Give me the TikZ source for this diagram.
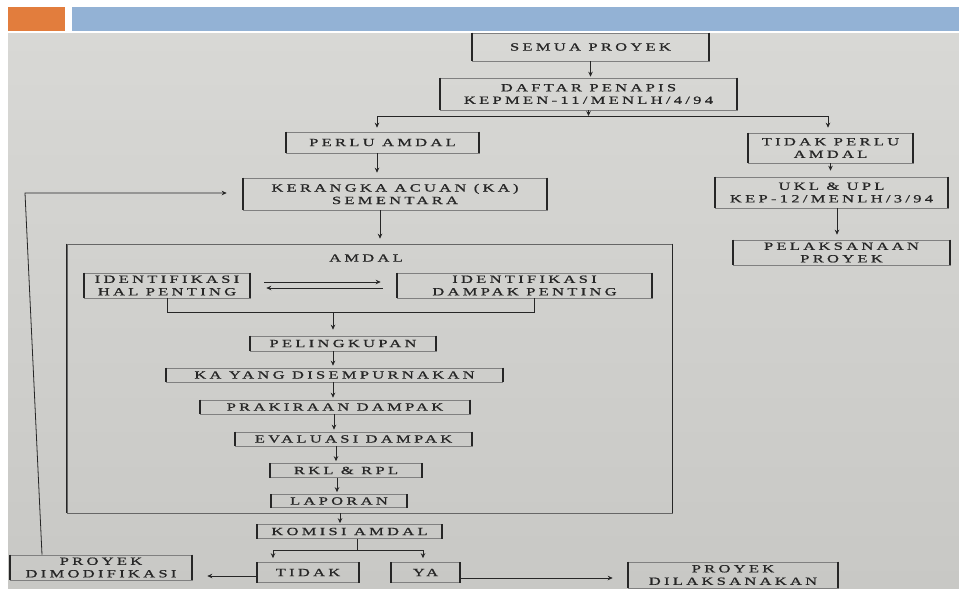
\documentclass[tikz,border=0pt]{standalone}
\usepackage{fontspec}
\newfontfamily\boxfont[FakeStretch=1.5,LetterSpace=30,FakeBold=0.9]{Liberation Serif}
\usetikzlibrary{arrows.meta,calc}
\definecolor{slideorange}{HTML}{E27D3D}
\definecolor{slideblue}{HTML}{93B2D5}
\definecolor{papertop}{HTML}{D8D8D5}
\definecolor{paperbot}{HTML}{C8C8C5}
\definecolor{ink}{HTML}{262626}
\tikzset{
  box/.style={draw=black!50, line width=0.6pt, inner sep=0pt, align=center,
    font=\boxfont\fontsize{11}{12.5}\selectfont, text=ink},
  lbl/.style={inner sep=0pt, font=\boxfont\fontsize{11}{12.5}\selectfont, text=ink},
  conn/.style={draw=ink, line width=0.8pt},
  arr/.style={conn, -{Stealth[length=5pt,width=4.5pt]}},
  side/.style={draw=black!85, line width=1.7pt}
}
\begin{document}
\begin{tikzpicture}[x=1pt,y=-1pt]
\useasboundingbox (0,0) rectangle (959,589);
\fill[white] (0,0) rectangle (959,589);
\fill[slideorange] (8,7) rectangle (65,31);
\fill[slideblue] (72,7) rectangle (959,31);
\shade[top color=papertop, bottom color=paperbot] (8,33) rectangle (959,588);

% top part
\node[box, minimum width=237pt, minimum height=28pt] (semua) at (590.5,47) {SEMUA PROYEK};
\node[box, minimum width=297pt, minimum height=32pt] (daftar) at (588.5,94) {DAFTAR PENAPIS\\KEPMEN-11/MENLH/4/94};
\node[box, minimum width=193pt, minimum height=21pt] (perlu) at (382.5,142.5) {PERLU AMDAL};
\node[box, minimum width=165pt, minimum height=30pt] (tidakperlu) at (830.5,148) {TIDAK PERLU\\AMDAL};
\node[box, minimum width=304pt, minimum height=32pt] (ker) at (395,194) {KERANGKA ACUAN (KA)\\SEMENTARA};
\node[box, minimum width=233pt, minimum height=31pt] (ukl) at (831.5,192.5) {UKL \& UPL\\KEP-12/MENLH/3/94};
\node[box, minimum width=217pt, minimum height=25pt] (pelak) at (841.5,252.5) {PELAKSANAAN\\PROYEK};

% AMDAL frame
\node[draw=black!60, line width=0.6pt, minimum width=605pt, minimum height=269pt, inner sep=0pt] (amdalbox) at (369.5,378.5) {};
\node[lbl] (amdallbl) at (366,258) {AMDAL};
\node[box, minimum width=166pt, minimum height=25pt] (ihp) at (167,285.5) {IDENTIFIKASI\\HAL PENTING};
\node[box, minimum width=255pt, minimum height=25pt] (idp) at (524.5,285.5) {IDENTIFIKASI\\DAMPAK PENTING};
\node[box, minimum width=186pt, minimum height=15pt] (peling) at (343,343.5) {PELINGKUPAN};
\node[box, minimum width=336pt, minimum height=14pt] (kayang) at (334.5,375) {KA YANG DISEMPURNAKAN};
\node[box, minimum width=270pt, minimum height=14pt] (prak) at (335,407) {PRAKIRAAN DAMPAK};
\node[box, minimum width=237pt, minimum height=14pt] (eval) at (353.5,439) {EVALUASI DAMPAK};
\node[box, minimum width=152pt, minimum height=14pt] (rkl) at (346,470.5) {RKL \& RPL};
\node[box, minimum width=136pt, minimum height=13pt] (lap) at (339,501) {LAPORAN};

% bottom part
\node[box, minimum width=185pt, minimum height=14pt] (komisi) at (349.5,531.5) {KOMISI AMDAL};
\node[box, minimum width=102pt, minimum height=20pt] (tidak) at (308,572.5) {TIDAK};
\node[box, minimum width=69pt, minimum height=20pt] (ya) at (425.5,572.5) {YA};
\node[box, minimum width=182pt, minimum height=25pt] (dimod) at (101,567.5) {PROYEK\\DIMODIFIKASI};
\node[box, minimum width=210pt, minimum height=26pt] (dilak) at (733,575) {PROYEK\\DILAKSANAKAN};

% thick vertical sides of the boxes
\foreach \n in {semua,daftar,perlu,tidakperlu,ker,ukl,pelak,ihp,idp,peling,kayang,prak,eval,rkl,lap,komisi,tidak,ya,dimod,dilak}{
  \draw[side] (\n.north west) -- (\n.south west) (\n.north east) -- (\n.south east);
}
\draw[side, line width=1.4pt] (amdalbox.north west) -- (amdalbox.south west) (amdalbox.north east) -- (amdalbox.south east);

% coordinates
\coordinate (sL) at (377,116);
\coordinate (sR) at (828,116);
\coordinate (bL) at (167,312);
\coordinate (bR) at (534,312);
\coordinate (bM) at (333,312);
\coordinate (kx) at (340,520);
\coordinate (t2) at (357,550);
\coordinate (t2L) at (273,550);
\coordinate (t2R) at (423,550);
\coordinate (fbx) at (42,555);
\coordinate (fb2) at (25,193);

% connectors top
\draw[arr, shorten >=1pt] (semua.south) -- (semua.south |- daftar.north);
\draw[conn] (sL) -- (sR);
\draw[arr] (daftar.south) -- (daftar.south |- sL);
\draw[arr, shorten >=4pt] (sL) -- (sL |- perlu.north);
\draw[arr, shorten >=5pt] (sR) -- (sR |- tidakperlu.north);
\draw[arr, shorten >=5pt] (perlu.south -| sL) -- (ker.north -| sL);
\draw[arr, shorten >=5pt] ([xshift=-15pt]ker.south) -- ([xshift=-15pt]ker.south |- amdalbox.north);
\draw[arr, shorten >=6pt] (tidakperlu.south) -- (tidakperlu.south |- ukl.north);
\draw[arr, shorten >=5pt] (ukl.south -| 837,0) -- (pelak.north -| 837,0);

% inside AMDAL
\draw[arr, shorten <=14pt, shorten >=16pt] ([yshift=3.5pt]ihp.east) -- ([yshift=3.5pt]ihp.east -| idp.west);
\draw[arr, shorten <=14pt, shorten >=16pt] ([yshift=-2.5pt]idp.west) -- ([yshift=-2.5pt]idp.west -| ihp.east);
\draw[conn] (ihp.south) -- (bL) -- (bR) -- (bR |- idp.south);
\draw[arr, shorten >=6pt] (bM) -- (bM |- peling.north);
\draw[arr, shorten >=2pt] (peling.south -| bM) -- (kayang.north -| bM);
\draw[arr, shorten >=2pt] (kayang.south -| bM) -- (prak.north -| bM);
\draw[arr, shorten >=2pt] ([xshift=1pt]prak.south -| bM) -- ([xshift=1pt]eval.north -| bM);
\draw[arr, shorten >=2pt] ([xshift=3pt]eval.south -| bM) -- ([xshift=3pt]rkl.north -| bM);
\draw[arr, shorten >=2pt] ([xshift=4pt]rkl.south -| bM) -- ([xshift=4pt]lap.north -| bM);

% bottom connectors
\draw[arr, shorten >=1pt] (amdalbox.south -| kx) -- (komisi.north -| kx);
\draw[conn] (komisi.south -| t2) -- (t2);
\draw[conn] (t2L) -- (t2R);
\draw[arr, shorten >=4pt] (t2L) -- (t2L |- tidak.north);
\draw[arr, shorten >=4pt] (t2R) -- (t2R |- ya.north);
\draw[arr, shorten >=15pt] ([yshift=-3.5pt]tidak.west) -- ([yshift=-3.5pt]tidak.west -| dimod.east);
\draw[arr, shorten >=15pt] ([yshift=-5.5pt]ya.east) -- ([yshift=-5.5pt]ya.east -| dilak.west);
\draw[arr, shorten >=16pt] (dimod.north -| fbx) -- (fb2) -- (fb2 -| ker.west);
\end{tikzpicture}
\end{document}
